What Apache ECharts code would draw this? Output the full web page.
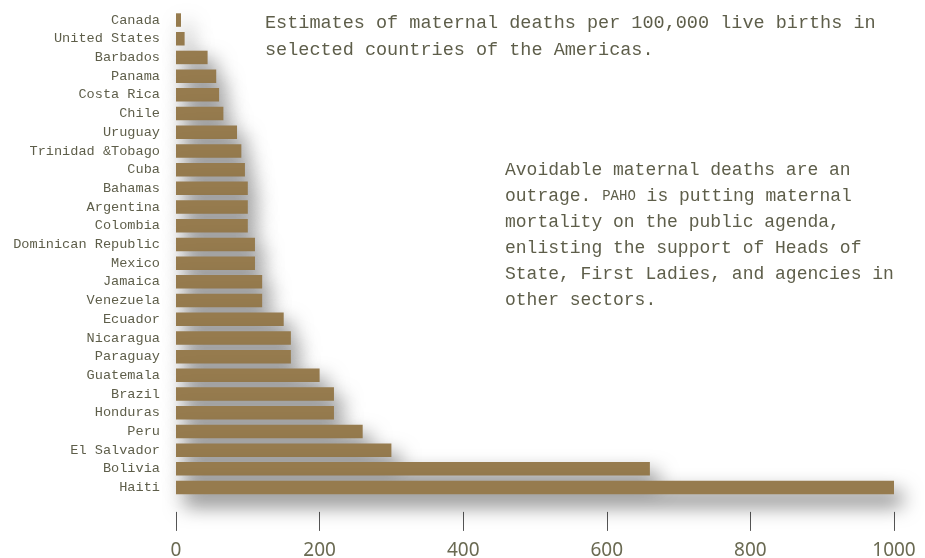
<!DOCTYPE html>
<html>
<head>
<meta charset="utf-8">
<script src="https://cdn.jsdelivr.net/npm/echarts@6/dist/echarts.min.js"></script>
<style>
  html, body { margin: 0; padding: 0; background: #ffffff; }
  #chart { width: 925px; height: 558px; }
</style>
</head>
<body>
<div id="chart"></div>
<script>
// Countries, top to bottom
const countries = [
  'Canada', 'United States', 'Barbados', 'Panama', 'Costa Rica', 'Chile',
  'Uruguay', 'Trinidad &Tobago', 'Cuba', 'Bahamas', 'Argentina', 'Colombia',
  'Dominican Republic', 'Mexico', 'Jamaica', 'Venezuela', 'Ecuador',
  'Nicaragua', 'Paraguay', 'Guatemala', 'Brazil', 'Honduras', 'Peru',
  'El Salvador', 'Bolivia', 'Haiti'
];

// Maternal deaths per 100,000 live births
const deaths = [
  7, 12, 44, 56, 60, 66,
  85, 91, 96, 100, 100, 100,
  110, 110, 120, 120, 150,
  160, 160, 200, 220, 220, 260,
  300, 660, 1000
];

const xTicks = [0, 200, 400, 600, 800, 1000];

const titleLines = [
  'Estimates of maternal deaths per 100,000 live births in',
  'selected countries of the Americas.'
];

const noteLines = [
  'Avoidable maternal deaths are an',
  'outrage. {sc|PAHO} is putting maternal',
  'mortality on the public agenda,',
  'enlisting the support of Heads of',
  'State, First Ladies, and agencies in',
  'other sectors.'
];

const textColor = '#5e5e4a';
const mono = '"Liberation Mono", "DejaVu Sans Mono", monospace';

const chart = echarts.init(document.getElementById('chart'), null, { renderer: 'canvas' });

chart.setOption({
  backgroundColor: '#ffffff',
  animation: false,
  grid: {
    left: 176, right: 31, top: 10.7, bottom: 61.1,
    containLabel: false,
    outerBoundsMode: 'none'
  },
  xAxis: {
    type: 'value',
    min: xTicks[0],
    max: xTicks[xTicks.length - 1],
    interval: 200,
    offset: 15,
    axisLine: { show: false },
    axisTick: { show: true, length: 19, lineStyle: { color: '#555555', width: 1 } },
    splitLine: { show: false },
    axisLabel: {
      margin: 29,
      formatter: v => String(v),
      fontFamily: '"Noto Sans", "Liberation Sans", sans-serif',
      fontSize: 19,
      color: '#6a6a52'
    }
  },
  yAxis: {
    type: 'category',
    data: countries,
    inverse: true,
    axisLine: { show: false },
    axisTick: { show: false },
    axisLabel: {
      margin: 16,
      fontFamily: mono,
      fontSize: 13.6,
      color: textColor
    }
  },
  series: [{
    type: 'bar',
    data: deaths,
    barWidth: 13.5,
    itemStyle: {
      color: '#967b4e',
      shadowColor: 'rgba(0, 0, 0, 0.55)',
      shadowBlur: 20,
      shadowOffsetX: 8,
      shadowOffsetY: 11
    }
  }],
  graphic: [
    {
      type: 'text',
      left: 265,
      top: 10,
      style: {
        text: titleLines.join('\n'),
        font: '18.5px ' + mono,
        fill: textColor,
        lineHeight: 27
      }
    },
    {
      type: 'text',
      left: 505,
      top: 157,
      style: {
        text: noteLines.join('\n'),
        font: '18px ' + mono,
        fill: textColor,
        lineHeight: 26,
        rich: {
          sc: { fontFamily: mono, fontSize: 14, fill: textColor, lineHeight: 26 }
        }
      }
    }
  ]
});
</script>
</body>
</html>
